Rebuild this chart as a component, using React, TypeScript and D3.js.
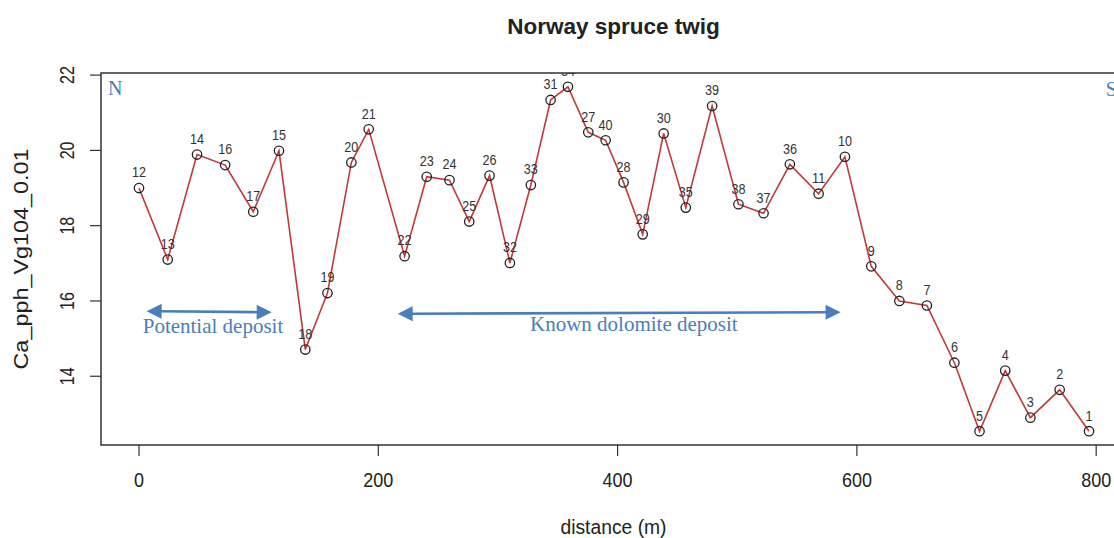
import React from 'react';
import * as d3 from 'd3';

// ---- data ----
const pointIds = [12, 13, 14, 16, 17, 15, 18, 19, 20, 21, 22, 23, 24, 25, 26, 32, 33, 31, 34, 27, 40, 28, 29, 30, 35, 39, 38, 37, 36, 11, 10, 9, 8, 7, 6, 5, 4, 3, 2, 1];
const distances = [0, 24, 48.5, 72, 95.5, 117, 139, 157.5, 177.5, 192, 222, 240.5, 259.5, 276, 293, 310, 327.5, 344, 358.5, 375.5, 390, 405, 421, 438.5, 457, 479, 501, 522, 544, 568, 590, 612, 635.5, 658.5, 681.5, 702.5, 724, 745, 769.5, 794];
const caValues = [19.0, 17.1, 19.89, 19.61, 18.37, 19.99, 14.71, 16.21, 19.68, 20.56, 17.19, 19.3, 19.21, 18.11, 19.33, 17.01, 19.08, 21.34, 21.69, 20.48, 20.27, 19.15, 17.77, 20.45, 18.48, 21.18, 18.57, 18.33, 19.63, 18.85, 19.83, 16.92, 16.0, 15.88, 14.36, 12.54, 14.15, 12.9, 13.64, 12.54];
const xTicks = [0, 200, 400, 600, 800];
const yTicks = [14, 16, 18, 20, 22];

const titleText = 'Norway spruce twig';
const xLabel = 'distance (m)';
const yLabel = 'Ca_pph_Vg104_0.01';

// annotation arrows (data units)
const arrowNames = ['Potential deposit', 'Known dolomite deposit'];
const arrowStartX = [6.4, 216.2];
const arrowStartY = [15.73, 15.66];
const arrowEndX = [110.9, 586.4];
const arrowEndY = [15.70, 15.70];
const arrowTextX = [3.1, 326.8];
const arrowTextY = [15.16, 15.21];
const compassLabels = ['N', 'S'];
const compassX = [-25.9, 808];
const compassY = [21.47, 21.44];

// ---- layout ----
const W = 1114;
const H = 538;
const plotLeft = 101;
const plotTop = 73;
const plotRight = 1127;
const plotBottom = 445;

const SANS = '"Liberation Sans", Arial, Helvetica, sans-serif';
const SERIF = '"Liberation Serif", "Times New Roman", Times, serif';
const LINE_RED = '#c0393c';
const ANNO_BLUE = '#4a7ebb';

function rRange(vals: number[]): [number, number] {
  const [lo, hi] = d3.extent(vals) as [number, number];
  const e = (hi - lo) * 0.04;
  return [lo - e, hi + e];
}

export default function App() {
  const x = d3.scaleLinear().domain(rRange(distances)).range([plotLeft, plotRight]);
  const y = d3.scaleLinear().domain(rRange(caValues)).range([plotBottom, plotTop]);

  const pts = distances.map((d, i) => ({ id: pointIds[i], d, v: caValues[i] }));
  const line = d3
    .line<{ d: number; v: number }>()
    .x((p) => x(p.d))
    .y((p) => y(p.v));

  const arrowHead = (tx: number, ty: number, fx: number, fy: number) => {
    const ang = Math.atan2(ty - fy, tx - fx);
    const L = 15;
    const hw = 7.5;
    const bx = tx - L * Math.cos(ang);
    const by = ty - L * Math.sin(ang);
    const px = -Math.sin(ang);
    const py = Math.cos(ang);
    return `M${tx},${ty}L${bx + px * hw},${by + py * hw}L${bx - px * hw},${by - py * hw}Z`;
  };

  const plotMidY = (plotTop + plotBottom) / 2;

  return (
    <svg
      width={W}
      height={H}
      style={{ position: 'fixed', left: 0, top: 0, background: '#fff' }}
    >
      <defs>
        <clipPath id="plotClip">
          <rect x={plotLeft} y={plotTop} width={plotRight - plotLeft} height={plotBottom - plotTop} />
        </clipPath>
      </defs>
      <rect x={0} y={0} width={W} height={H} fill="#fff" />

      {/* title */}
      <text x={613.5} y={34} textAnchor="middle" fontFamily={SANS} fontWeight="bold" fontSize={22.5} fill="#222">
        {titleText}
      </text>

      {/* data line and points */}
      <g clipPath="url(#plotClip)">
        <path d={line(pts) || ''} fill="none" stroke={LINE_RED} strokeWidth={1.6} />
        {pts.map((p) => (
          <circle key={p.id} cx={x(p.d)} cy={y(p.v)} r={4.7} fill="none" stroke="#222" strokeWidth={1.3} />
        ))}
        {pts.map((p) => (
          <text
            key={'l' + p.id}
            transform={`translate(${x(p.d)},${y(p.v) - 10.7}) scale(1,1.18)`}
            textAnchor="middle"
            fontFamily={SANS}
            fontSize={12.6}
            fill="#333"
          >
            {p.id}
          </text>
        ))}
      </g>

      {/* box */}
      <rect
        x={plotLeft}
        y={plotTop}
        width={plotRight - plotLeft}
        height={plotBottom - plotTop}
        fill="none"
        stroke="#333"
        strokeWidth={1.5}
      />

      {/* x axis */}
      {xTicks.map((t) => (
        <g key={'xt' + t}>
          <line x1={x(t)} x2={x(t)} y1={plotBottom} y2={plotBottom + 11} stroke="#333" strokeWidth={1.2} />
          <text
            transform={`translate(${x(t)},487) scale(1,1.11)`}
            textAnchor="middle"
            fontFamily={SANS}
            fontSize={18}
            fill="#222"
          >
            {t}
          </text>
        </g>
      ))}
      <text x={613.5} y={534} textAnchor="middle" fontFamily={SANS} fontSize={19.3} fill="#222">
        {xLabel}
      </text>

      {/* y axis */}
      {yTicks.map((t) => (
        <g key={'yt' + t}>
          <line x1={plotLeft - 11} x2={plotLeft} y1={y(t)} y2={y(t)} stroke="#333" strokeWidth={1.2} />
          <text
            transform={`translate(74,${y(t)}) rotate(-90) scale(1,1.25)`}
            textAnchor="middle"
            fontFamily={SANS}
            fontSize={16}
            fill="#222"
          >
            {t}
          </text>
        </g>
      ))}
      <text
        transform={`translate(27.5,${plotMidY}) rotate(-90) scale(1.17,1)`}
        textAnchor="middle"
        fontFamily={SANS}
        fontSize={20}
        fill="#222"
      >
        {yLabel}
      </text>

      {/* annotations */}
      {arrowNames.map((name, i) => {
        const x1 = x(arrowStartX[i]);
        const y1 = y(arrowStartY[i]);
        const x2 = x(arrowEndX[i]);
        const y2 = y(arrowEndY[i]);
        const ang = Math.atan2(y2 - y1, x2 - x1);
        const inset = 13;
        return (
          <g key={name}>
            <line
              x1={x1 + inset * Math.cos(ang)}
              y1={y1 + inset * Math.sin(ang)}
              x2={x2 - inset * Math.cos(ang)}
              y2={y2 - inset * Math.sin(ang)}
              stroke={ANNO_BLUE}
              strokeWidth={2.6}
            />
            <path d={arrowHead(x2, y2, x1, y1)} fill={ANNO_BLUE} />
            <path d={arrowHead(x1, y1, x2, y2)} fill={ANNO_BLUE} />
            <text x={x(arrowTextX[i])} y={y(arrowTextY[i])} fontFamily={SERIF} fontSize={21} fill={ANNO_BLUE}>
              {name}
            </text>
          </g>
        );
      })}
      {compassLabels.map((c, i) => (
        <text key={c} x={x(compassX[i])} y={y(compassY[i])} fontFamily={SERIF} fontSize={20} fill={ANNO_BLUE}>
          {c}
        </text>
      ))}
    </svg>
  );
}
